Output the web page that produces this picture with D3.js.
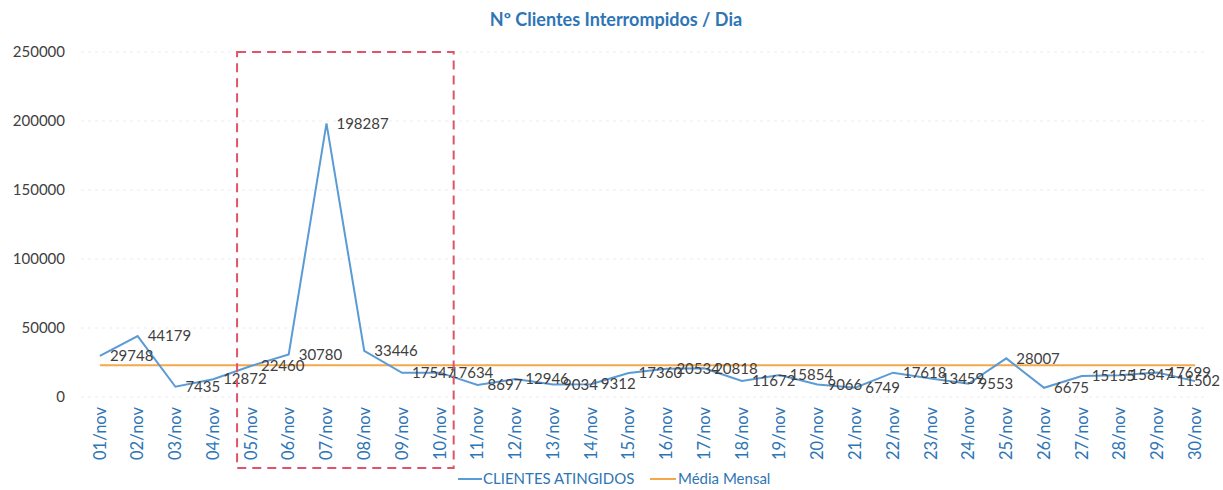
<!DOCTYPE html>
<html>
<head>
<meta charset="utf-8">
<script src="https://cdn.jsdelivr.net/npm/d3@7"></script>
<style>
  body { margin: 0; background: #fff; }
  text { font-family: Lato, "Open Sans", sans-serif; }
</style>
</head>
<body>
<script>
// days of november
const dias = ["01/nov","02/nov","03/nov","04/nov","05/nov","06/nov","07/nov","08/nov","09/nov","10/nov",
  "11/nov","12/nov","13/nov","14/nov","15/nov","16/nov","17/nov","18/nov","19/nov","20/nov",
  "21/nov","22/nov","23/nov","24/nov","25/nov","26/nov","27/nov","28/nov","29/nov","30/nov"];
// clientes atingidos per day
const clientes = [29748,44179,7435,12872,22460,30780,198287,33446,17547,17634,
  8697,12946,9034,9312,17360,20534,20818,11672,15854,9066,
  6749,17618,13459,9553,28007,6675,15155,15847,17699,11502];
const mediaMensal = 23065;
const yTicks = [0,50000,100000,150000,200000,250000];
const destaque = ["05/nov","10/nov"]; // dashed box

const width = 1223, height = 490;
const margin = {top: 52, right: 9, bottom: 93, left: 81};

const svg = d3.select("body").append("svg")
  .attr("width", width)
  .attr("height", height);

const x = d3.scaleBand()
  .domain(dias)
  .range([margin.left, width - margin.right]);

const y = d3.scaleLinear()
  .domain([0, 250000])
  .range([height - margin.bottom, margin.top]);

const cx = d => x(d) + x.bandwidth() / 2;

// title
svg.append("text")
  .attr("x", 616)
  .attr("y", 26)
  .attr("text-anchor", "middle")
  .style("font-size", "18px")
  .style("font-weight", "bold")
  .style("fill", "#2e75b6")
  .text("Nº Clientes Interrompidos / Dia");

// gridlines
svg.append("g")
  .selectAll("line")
  .data(yTicks)
  .join("line")
  .attr("x1", margin.left)
  .attr("x2", width - margin.right - 8)
  .attr("y1", d => y(d))
  .attr("y2", d => y(d))
  .attr("stroke", "#ececec")
  .attr("stroke-dasharray", "3,4");

// y axis labels
const yAxis = svg.append("g")
  .attr("transform", `translate(${margin.left - 16},0)`)
  .call(d3.axisLeft(y).tickValues(yTicks).tickSize(0).tickPadding(0).tickFormat(d3.format("d")));
yAxis.select(".domain").remove();
yAxis.selectAll("text")
  .style("font-size", "15px")
  .style("font-family", "Lato, sans-serif")
  .style("fill", "#404040");

// x axis labels (rotated)
const xAxis = svg.append("g")
  .attr("transform", `translate(0,${y(0)})`)
  .call(d3.axisBottom(x).tickSize(0).tickPadding(0));
xAxis.select(".domain").remove();
xAxis.selectAll("text")
  .attr("transform", "rotate(-90)")
  .attr("x", -10)
  .attr("y", 0)
  .attr("dy", "0.35em")
  .attr("text-anchor", "end")
  .style("font-size", "16.5px")
  .style("font-family", "Lato, sans-serif")
  .style("fill", "#2e75b6");

// media mensal line
svg.append("line")
  .attr("x1", cx(dias[0]))
  .attr("x2", cx(dias[dias.length - 1]))
  .attr("y1", y(mediaMensal))
  .attr("y2", y(mediaMensal))
  .attr("stroke", "#f4a84a")
  .attr("stroke-width", 2);

// clientes line
const line = d3.line()
  .x((d, i) => cx(dias[i]))
  .y(d => y(d));

svg.append("path")
  .datum(clientes)
  .attr("d", line)
  .attr("fill", "none")
  .attr("stroke", "#5b9bd5")
  .attr("stroke-width", 2);

// data labels (last one pulled in to stay inside the chart)
const last = clientes.length - 1;
svg.append("g")
  .selectAll("text")
  .data(clientes)
  .join("text")
  .attr("x", (d, i) => i === last ? width - 3 : cx(dias[i]) + 10)
  .attr("y", d => y(d))
  .attr("dy", "0.35em")
  .attr("text-anchor", (d, i) => i === last ? "end" : "start")
  .style("font-size", "15px")
  .style("fill", "#404040")
  .text(d => d);

// dashed highlight box
const bx0 = x(destaque[0]) + 5;
const bx1 = x(destaque[1]) + x.bandwidth() - 5;
svg.append("rect")
  .attr("x", bx0)
  .attr("y", y(250000))
  .attr("width", bx1 - bx0)
  .attr("height", 468 - y(250000))
  .attr("fill", "none")
  .attr("stroke", "#e05468")
  .attr("stroke-width", 2)
  .attr("stroke-dasharray", "9,6");

// legend
const legend = svg.append("g").attr("transform", "translate(458,479)");
legend.append("line")
  .attr("x1", 0).attr("x2", 24)
  .attr("stroke", "#5b9bd5").attr("stroke-width", 2);
legend.append("text")
  .attr("x", 25).attr("dy", "0.35em")
  .style("font-size", "15px").style("fill", "#2e75b6")
  .text("CLIENTES ATINGIDOS");
legend.append("line")
  .attr("x1", 192).attr("x2", 218)
  .attr("stroke", "#f4a84a").attr("stroke-width", 2);
legend.append("text")
  .attr("x", 220).attr("dy", "0.35em")
  .style("font-size", "15px").style("fill", "#2e75b6")
  .text("Média Mensal");
</script>
</body>
</html>
